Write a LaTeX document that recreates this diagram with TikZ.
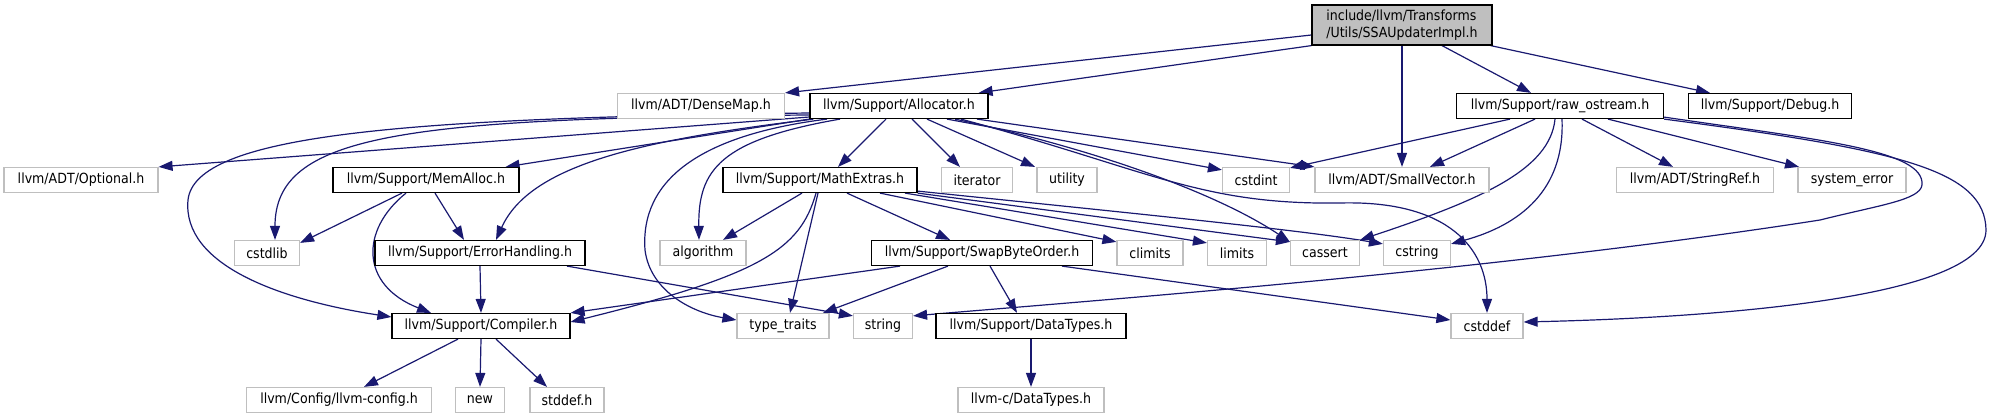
\documentclass[tikz,border=0pt]{standalone}
\usepackage{fontspec}
\setmainfont{DejaVu Sans}[FakeStretch=0.9]
\usetikzlibrary{arrows.meta}
\definecolor{edgeblue}{HTML}{191970}
\definecolor{greyseventyfive}{HTML}{BFBFBF}
\pgfdeclarelayer{bg}
\pgfsetlayers{bg,main}
\begin{document}
\begin{tikzpicture}[x=1pt,y=-1pt,
  box/.style={draw=black, line width=1.2pt, inner sep=0pt, minimum height=25pt, fill=white,
              font=\fontsize{14}{17}\selectfont},
  gbox/.style={box, draw=greyseventyfive},
  edge/.style={draw=edgeblue, line width=1.2pt, -{Triangle[length=14pt,width=10pt]}}]
\useasboundingbox (0,0) rectangle (1989,417);

% row 0
\node[box, fill=greyseventyfive, minimum width=180pt, minimum height=40pt, align=left] (root) at (1402,25) {include/llvm/Transforms\\/Utils/SSAUpdaterImpl.h};
% row 1
\node[gbox, minimum width=167pt] (densemap) at (701,106) {llvm/ADT/DenseMap.h};
\node[box,  minimum width=178pt] (alloc) at (899,106) {llvm/Support/Allocator.h};
\node[box,  minimum width=207pt] (rawos) at (1560,106) {llvm/Support/raw\_ostream.h};
\node[box,  minimum width=163pt] (debug) at (1770,106) {llvm/Support/Debug.h};
% row 2
\node[gbox, minimum width=154pt] (optional) at (81,180) {llvm/ADT/Optional.h};
\node[box,  minimum width=186pt] (memalloc) at (426,180) {llvm/Support/MemAlloc.h};
\node[box,  minimum width=194pt] (mathextras) at (820,180) {llvm/Support/MathExtras.h};
\node[gbox, minimum width=71pt] (iterator) at (977,180) {iterator};
\node[gbox, minimum width=60pt] (utility) at (1067,180) {utility};
\node[gbox, minimum width=67pt] (cstdint) at (1256,180) {cstdint};
\node[gbox, minimum width=174pt] (smallvec) at (1402,180) {llvm/ADT/SmallVector.h};
\node[gbox, minimum width=157pt] (stringref) at (1695,180) {llvm/ADT/StringRef.h};
\node[gbox, minimum width=108pt] (syserr) at (1852,180) {system\_error};
% row 3
\node[gbox, minimum width=65pt] (cstdlib) at (267,253) {cstdlib};
\node[box,  minimum width=210pt] (errh) at (480,253) {llvm/Support/ErrorHandling.h};
\node[gbox, minimum width=86pt] (algorithm) at (703,253) {algorithm};
\node[box,  minimum width=221pt] (swap) at (982,253) {llvm/Support/SwapByteOrder.h};
\node[gbox, minimum width=66pt] (climits) at (1150,253) {climits};
\node[gbox, minimum width=59pt] (limits) at (1237,253) {limits};
\node[gbox, minimum width=69pt] (cassert) at (1325,253) {cassert};
\node[gbox, minimum width=67pt] (cstring) at (1417,253) {cstring};
% row 4
\node[box,  minimum width=178pt] (compiler) at (481,326) {llvm/Support/Compiler.h};
\node[gbox, minimum width=92pt] (typetraits) at (783,326) {type\_traits};
\node[gbox, minimum width=59pt] (string) at (883,326) {string};
\node[box,  minimum width=190pt] (datatypes) at (1031,326) {llvm/Support/DataTypes.h};
\node[gbox, minimum width=72pt] (cstddef) at (1487,326) {cstddef};
% row 5
\node[gbox, minimum width=185pt] (llvmconfig) at (339,400) {llvm/Config/llvm-config.h};
\node[gbox, minimum width=49pt] (new) at (480,400) {new};
\node[gbox, minimum width=74pt] (stddef) at (567,400) {stddef.h};
\node[gbox, minimum width=146pt] (cdatatypes) at (1031,400) {llvm-c/DataTypes.h};

\begin{pgfonlayer}{bg}
% root
\draw[edge] ([yshift=-10pt]root.west) -- (densemap.north east);
\draw[edge] (root.south west) -- ([xshift=-10pt]alloc.north east);
\draw[edge] (root.south) -- (smallvec.north);
\draw[edge] ([xshift=40pt]root.south) -- ([xshift=-29pt]rawos.north);
\draw[edge] ([xshift=-2pt]root.south east) -- ([xshift=-60pt]debug.north);
% allocator
\draw[edge] ([yshift=-11pt]alloc.west) -- (optional.north east);
\draw[edge] ([yshift=-9pt]alloc.west) .. controls (400,118) and (275,135) .. ([xshift=8pt]cstdlib.north);
\draw[edge] ([yshift=-7pt]alloc.west) .. controls (400,118) and (195,135) .. (188,200) .. controls (182,265) and (280,300) .. ([yshift=9pt]compiler.west);
\draw[edge] (alloc.south west) -- ([xshift=-14pt]memalloc.north east);
\draw[edge] ([xshift=4pt]alloc.south west) .. controls (640,140) and (530,165) .. ([xshift=16pt]errh.north);
\draw[edge] ([xshift=-59pt]alloc.south) .. controls (720,140) and (698,170) .. ([xshift=-4pt]algorithm.north);
\draw[edge] ([xshift=-72pt]alloc.south) .. controls (700,135) and (640,180) .. (645,250) .. controls (650,290) and (690,312) .. ([yshift=6pt]typetraits.west);
\draw[edge] ([xshift=-13pt]alloc.south) -- ([xshift=18pt]mathextras.north);
\draw[edge] ([xshift=13pt]alloc.south) -- ([xshift=-17pt]iterator.north);
\draw[edge] ([xshift=28pt]alloc.south) -- ([xshift=-32pt]utility.north);
\draw[edge] ([xshift=48pt]alloc.south) -- ([yshift=-3pt]cstdint.north west);
\draw[edge] ([xshift=78pt]alloc.south) -- (smallvec.north west);
\draw[edge] ([xshift=56pt]alloc.south) .. controls (1100,150) and (1220,195) .. ([yshift=-2pt]cassert.north west);
\draw[edge] ([xshift=62pt]alloc.south) .. controls (1150,170) and (1200,205) .. (1340,203) .. controls (1450,200) and (1487,250) .. (cstddef.north);
% memalloc
\draw[edge] ([xshift=-24pt]memalloc.south) -- ([yshift=-3pt]cstdlib.north east);
\draw[edge] ([xshift=9pt]memalloc.south) -- ([xshift=-16pt]errh.north);
\draw[edge] ([xshift=-20pt]memalloc.south) .. controls (360,230) and (360,285) .. ([xshift=-50pt]compiler.north);
% errorhandling
\draw[edge] (errh.south) -- (compiler.north);
\draw[edge] ([xshift=87pt]errh.south) -- ([yshift=-3pt]string.north west);
% mathextras
\draw[edge] ([xshift=-18pt]mathextras.south) -- ([xshift=20pt]algorithm.north);
\draw[edge] ([xshift=27pt]mathextras.south) -- ([xshift=-32pt]swap.north);
\draw[edge] ([xshift=60pt]mathextras.south) -- ([yshift=-2pt]climits.north west);
\draw[edge] ([xshift=85pt]mathextras.south) -- ([yshift=-3pt]limits.north west);
\draw[edge] (mathextras.south east) -- ([yshift=-2pt]cassert.north west);
\draw[edge] ([yshift=2pt]mathextras.south east) .. controls (1150,215) and (1300,230) .. ([yshift=-4pt]cstring.north west);
\draw[edge] ([xshift=-2pt]mathextras.south) -- ([xshift=7pt]typetraits.north);
\draw[edge] ([xshift=-4pt]mathextras.south) .. controls (800,250) and (760,275) .. ([yshift=4pt]compiler.east);
% swapbyteorder
\draw[edge] ([xshift=-82pt]swap.south) -- (compiler.north east);
\draw[edge] ([xshift=-34pt]swap.south) -- ([xshift=40pt]typetraits.north);
\draw[edge] ([xshift=8pt]swap.south) -- ([xshift=-14pt]datatypes.north);
\draw[edge] ([xshift=80pt]swap.south) -- ([yshift=6pt]cstddef.west);
% raw_ostream
\draw[edge] ([xshift=-50pt]rawos.south) -- ([yshift=-1pt]cstdint.north east);
\draw[edge] ([xshift=-25pt]rawos.south) -- ([xshift=28pt]smallvec.north);
\draw[edge] ([xshift=-5pt]rawos.south) .. controls (1550,170) and (1480,200) .. (cassert.north east);
\draw[edge] ([xshift=2pt]rawos.south) .. controls (1565,190) and (1520,225) .. ([yshift=-4pt]cstring.north east);
\draw[edge] ([xshift=22pt]rawos.south) -- ([xshift=-22pt]stringref.north);
\draw[edge] ([xshift=48pt]rawos.south) -- ([xshift=-53pt]syserr.north);
\draw[edge] ([yshift=2pt]rawos.south east) .. controls (1820,140) and (1925,150) .. (1922,185) .. controls (1920,200) and (1880,205) .. (1820,220) .. controls (1500,270) and (1100,300) .. ([yshift=-3pt]string.north east);
\draw[edge] (rawos.south east) .. controls (1900,150) and (1985,170) .. (1986,230) .. controls (1986,300) and (1700,318) .. ([yshift=4pt]cstddef.east);
% datatypes
\draw[edge] (datatypes.south) -- (cdatatypes.north);
% compiler
\draw[edge] ([xshift=-23pt]compiler.south) -- ([xshift=25pt]llvmconfig.north);
\draw[edge] (compiler.south) -- (new.north);
\draw[edge] ([xshift=15pt]compiler.south) -- ([xshift=-20pt]stddef.north);
\end{pgfonlayer}
\end{tikzpicture}
\end{document}
